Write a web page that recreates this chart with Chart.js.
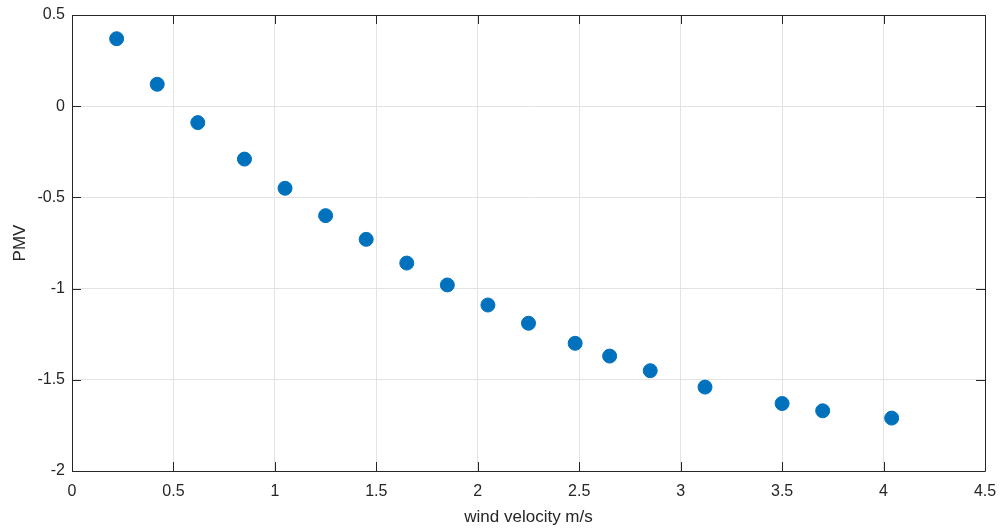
<!DOCTYPE html>
<html>
<head>
<meta charset="utf-8">
<script src="https://cdn.jsdelivr.net/npm/chart.js@4"></script>
<style>
  html, body { margin: 0; padding: 0; background: #fff; }
  #wrap { width: 1001px; height: 531px; }
</style>
</head>
<body>
<div id="wrap"><canvas id="pmvChart" width="1001" height="531"></canvas></div>
<script>
const velocity = [0.22, 0.42, 0.62, 0.85, 1.05, 1.25, 1.45, 1.65, 1.85, 2.05, 2.25, 2.48, 2.65, 2.85, 3.12, 3.50, 3.70, 4.04];
const pmv = [0.37, 0.12, -0.09, -0.29, -0.45, -0.60, -0.73, -0.86, -0.98, -1.09, -1.19, -1.30, -1.37, -1.45, -1.54, -1.63, -1.67, -1.71];
const xTicks = [0, 0.5, 1, 1.5, 2, 2.5, 3, 3.5, 4, 4.5];
const yTicks = [0.5, 0, -0.5, -1, -1.5, -2];

const axisColor = '#262626';
const fontFamily = 'Arial, "Liberation Sans", sans-serif';

// MATLAB-ish box with inward ticks on all four sides
const boxTicks = {
    id: 'boxTicks',
    afterDraw(chart) {
        const { ctx, chartArea: a, scales: { x, y } } = chart;
        const len = 9;
        ctx.save();
        ctx.strokeStyle = axisColor;
        ctx.lineWidth = 1;
        ctx.beginPath();
        ctx.rect(Math.round(a.left) + 0.5, Math.round(a.top) + 0.5, Math.round(a.right - a.left), Math.round(a.bottom - a.top));
        xTicks.forEach(v => {
            const px = Math.round(x.getPixelForValue(v)) + 0.5;
            ctx.moveTo(px, a.bottom); ctx.lineTo(px, a.bottom - len);
            ctx.moveTo(px, a.top); ctx.lineTo(px, a.top + len);
        });
        yTicks.forEach(v => {
            const py = Math.round(y.getPixelForValue(v)) + 0.5;
            ctx.moveTo(a.left, py); ctx.lineTo(a.left + len, py);
            ctx.moveTo(a.right, py); ctx.lineTo(a.right - len, py);
        });
        ctx.stroke();
        ctx.restore();
    }
};

const chart = new Chart(document.getElementById('pmvChart'), {
    type: 'scatter',
    data: {
        datasets: [{
            label: 'PMV',
            data: velocity.map((v, i) => ({ x: v, y: pmv[i] })),
            backgroundColor: '#0072BD',
            borderColor: '#0072BD',
            pointRadius: 7,
            pointHoverRadius: 7
        }]
    },
    options: {
        responsive: false,
        animation: false,
        layout: { padding: { top: 15, right: 16, left: 0, bottom: 0 } },
        plugins: {
            legend: { display: false },
            tooltip: { enabled: false }
        },
        scales: {
            x: {
                type: 'linear',
                min: 0,
                max: 4.5,
                afterFit: s => { s.height = 60; s.paddingLeft = 0; s.paddingRight = 0; },
                afterBuildTicks: s => { s.ticks = xTicks.map(v => ({ value: v })); },
                grid: { color: '#e3e3e3', drawTicks: false },
                border: { display: false },
                ticks: {
                    padding: 11,
                    color: axisColor,
                    font: { family: fontFamily, size: 16 },
                    callback: v => String(v)
                },
                title: {
                    display: true,
                    text: 'wind velocity m/s',
                    color: axisColor,
                    font: { family: fontFamily, size: 17 },
                    padding: { top: 2, bottom: 3 }
                }
            },
            y: {
                type: 'linear',
                min: -2,
                max: 0.5,
                afterFit: s => { s.width = 72; s.paddingTop = 0; s.paddingBottom = 0; },
                afterBuildTicks: s => { s.ticks = yTicks.map(v => ({ value: v })); },
                grid: { color: '#e3e3e3', drawTicks: false },
                border: { display: false },
                ticks: {
                    padding: 7,
                    color: axisColor,
                    font: { family: fontFamily, size: 16 },
                    callback: v => String(v)
                },
                title: {
                    display: true,
                    text: 'PMV',
                    color: axisColor,
                    font: { family: fontFamily, size: 17 },
                    padding: { top: 10, bottom: 2 }
                }
            }
        }
    },
    plugins: [boxTicks]
});
</script>
</body>
</html>
